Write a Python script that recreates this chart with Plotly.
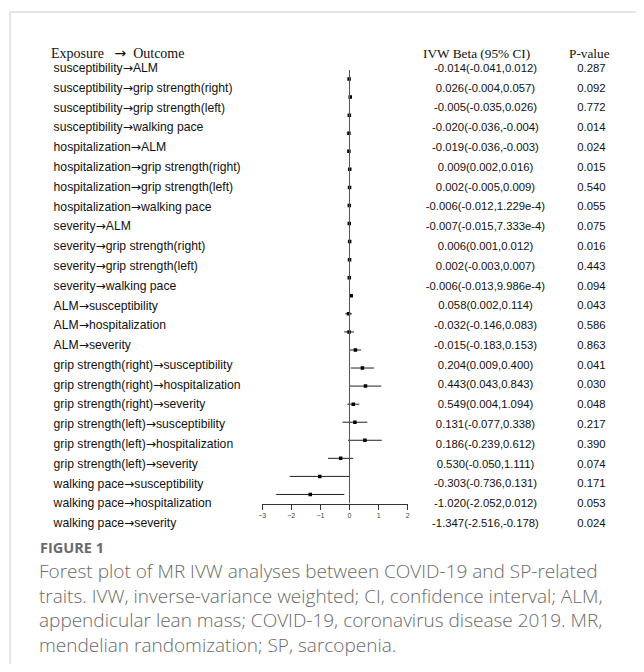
import plotly.graph_objects as go

W, H = 644, 672
OFF = 8                      # default page margin of the html body
OFFX = 11                    # small horizontal correction
FW, FH = W - OFF, H - 2 * OFF

labels = [
    "susceptibility→ALM", "susceptibility→grip strength(right)", "susceptibility→grip strength(left)",
    "susceptibility→walking pace", "hospitalization→ALM", "hospitalization→grip strength(right)",
    "hospitalization→grip strength(left)", "hospitalization→walking pace", "severity→ALM",
    "severity→grip strength(right)", "severity→grip strength(left)", "severity→walking pace",
    "ALM→susceptibility", "ALM→hospitalization", "ALM→severity",
    "grip strength(right)→susceptibility", "grip strength(right)→hospitalization", "grip strength(right)→severity",
    "grip strength(left)→susceptibility", "grip strength(left)→hospitalization", "grip strength(left)→severity",
    "walking pace→susceptibility", "walking pace→hospitalization", "walking pace→severity",
]
beta = [-0.014, 0.026, -0.005, -0.020, -0.019, 0.009, 0.002, -0.006, -0.007, 0.006, 0.002, -0.006,
        0.058, -0.032, -0.015, 0.204, 0.443, 0.549, 0.131, 0.186, 0.530, -0.303, -1.020, -1.347]
lower = [-0.041, -0.004, -0.035, -0.036, -0.036, 0.002, -0.005, -0.012, -0.015, 0.001, -0.003, -0.013,
         0.002, -0.146, -0.183, 0.009, 0.043, 0.004, -0.077, -0.239, -0.050, -0.736, -2.052, -2.516]
upper = [0.012, 0.057, 0.026, -0.004, -0.003, 0.016, 0.009, 1.229e-4, 7.333e-4, 0.012, 0.007, 9.986e-4,
         0.114, 0.083, 0.153, 0.400, 0.843, 1.094, 0.338, 0.612, 1.111, 0.131, 0.012, -0.178]
ci_text = [
    "-0.014(-0.041,0.012)", "0.026(-0.004,0.057)", "-0.005(-0.035,0.026)", "-0.020(-0.036,-0.004)",
    "-0.019(-0.036,-0.003)", "0.009(0.002,0.016)", "0.002(-0.005,0.009)", "-0.006(-0.012,1.229e-4)",
    "-0.007(-0.015,7.333e-4)", "0.006(0.001,0.012)", "0.002(-0.003,0.007)", "-0.006(-0.013,9.986e-4)",
    "0.058(0.002,0.114)", "-0.032(-0.146,0.083)", "-0.015(-0.183,0.153)", "0.204(0.009,0.400)",
    "0.443(0.043,0.843)", "0.549(0.004,1.094)", "0.131(-0.077,0.338)", "0.186(-0.239,0.612)",
    "0.530(-0.050,1.111)", "-0.303(-0.736,0.131)", "-1.020(-2.052,0.012)", "-1.347(-2.516,-0.178)",
]
pvals = ["0.287", "0.092", "0.772", "0.014", "0.024", "0.015", "0.540", "0.055", "0.075", "0.016",
         "0.443", "0.094", "0.043", "0.586", "0.863", "0.041", "0.030", "0.048", "0.217", "0.390",
         "0.074", "0.171", "0.053", "0.024"]
tick_vals = [-3, -2, -1, 0, 1, 2]
caption_lines = [
    "Forest plot of MR IVW analyses between COVID-19 and SP-related",
    "traits. IVW, inverse-variance weighted; CI, confidence interval; ALM,",
    "appendicular lean mass; COVID-19, coronavirus disease 2019. MR,",
    "mendelian randomization; SP, sarcopenia.",
]

n = len(labels)
rows = list(range(n))
ARROW = '<span style="font-family:DejaVu Sans">→</span>'


def px(x):
    return (x - OFFX) / FW


def py(y):
    return 1 - (y - OFF) / FH


fig = go.Figure()

# forest plot (subplot x/y)
fig.add_trace(go.Scatter(
    x=beta, y=rows, mode="markers",
    marker=dict(symbol="square", size=3.5, color="black"),
    error_x=dict(type="data", symmetric=False,
                 array=[u - b for u, b in zip(upper, beta)],
                 arrayminus=[b - l for b, l in zip(beta, lower)],
                 width=0, thickness=1, color="#222"),
    xaxis="x", yaxis="y", showlegend=False, hoverinfo="skip",
))

# table columns (subplot x2/y2)
lab_font = dict(family="Liberation Sans, Arial", size=12.2, color="#111")
num_font = dict(family="Liberation Sans, Arial", size=11.3, color="#111")
fig.add_trace(go.Scatter(
    x=[px(53)] * n, y=rows, mode="text", text=[s.replace("→", ARROW) for s in labels],
    textposition="middle right", textfont=lab_font,
    xaxis="x2", yaxis="y2", showlegend=False, hoverinfo="skip", cliponaxis=False))
fig.add_trace(go.Scatter(
    x=[px(489)] * n, y=rows, mode="text", text=ci_text,
    textposition="middle center", textfont=num_font,
    xaxis="x2", yaxis="y2", showlegend=False, hoverinfo="skip", cliponaxis=False))
fig.add_trace(go.Scatter(
    x=[px(596)] * n, y=rows, mode="text", text=pvals,
    textposition="middle center", textfont=num_font,
    xaxis="x2", yaxis="y2", showlegend=False, hoverinfo="skip", cliponaxis=False))

hdr_font = dict(family="Liberation Serif, Times New Roman", size=13.3, color="#111")
fig.add_annotation(x=px(48), y=py(53), xref="paper", yref="paper",
                   text="Exposure   " + ARROW + "  Outcome",
                   showarrow=False, xanchor="left", yanchor="middle",
                   font=dict(family="Liberation Serif, Times New Roman", size=14, color="#111"))
fig.add_annotation(x=px(480), y=py(53), xref="paper", yref="paper", text="IVW Beta (95% CI)",
                   showarrow=False, xanchor="center", yanchor="middle", font=hdr_font)
fig.add_annotation(x=px(594), y=py(53), xref="paper", yref="paper", text="P-value",
                   showarrow=False, xanchor="center", yanchor="middle", font=hdr_font)

fig.add_shape(type="line", x0=0, x1=0, y0=-0.5, y1=n - 0.5, xref="x", yref="y",
              line=dict(color="#555", width=1))

fig.add_annotation(x=px(37), y=py(547), xref="paper", yref="paper", text="FIGURE 1",
                   showarrow=False, xanchor="left", yanchor="middle",
                   font=dict(family="Open Sans", size=14.5, color="#6a6a6a", weight=700))
fig.add_annotation(x=px(36), y=py(607.5), xref="paper", yref="paper", text="<br>".join(caption_lines),
                   showarrow=False, xanchor="left", yanchor="middle", align="left",
                   font=dict(family="Open Sans", size=19, color="#6a6a6a", weight=300))

fig.add_shape(type="line", x0=px(9), x1=px(9), y0=py(12), y1=0, xref="paper", yref="paper",
              line=dict(color="#ccc", width=1))
fig.add_shape(type="line", x0=px(9), x1=1, y0=py(12), y1=py(12), xref="paper", yref="paper",
              line=dict(color="#ccc", width=1))

fig.update_layout(
    width=FW, height=FH, margin=dict(l=0, r=0, t=0, b=0),
    paper_bgcolor="white", plot_bgcolor="rgba(0,0,0,0)",
    xaxis=dict(domain=[px(263.5), px(410.5)], range=[-3, 2], tickvals=tick_vals,
               showgrid=False, zeroline=False, showline=True, linecolor="#333", linewidth=1,
               ticks="outside", ticklen=5, tickcolor="#333",
               tickfont=dict(family="Liberation Sans, Arial", size=7, color="#444"), anchor="y"),
    yaxis=dict(domain=[py(503.5), py(70)], range=[n - 0.5, -0.5], visible=False,
               showgrid=False, anchor="x"),
    xaxis2=dict(domain=[0, 1], range=[0, 1], visible=False, anchor="y2", showgrid=False),
    yaxis2=dict(domain=[py(534), py(59.2)], range=[n - 0.5, -0.5], visible=False,
                anchor="x2", showgrid=False),
)

fig.write_html("out.html")
